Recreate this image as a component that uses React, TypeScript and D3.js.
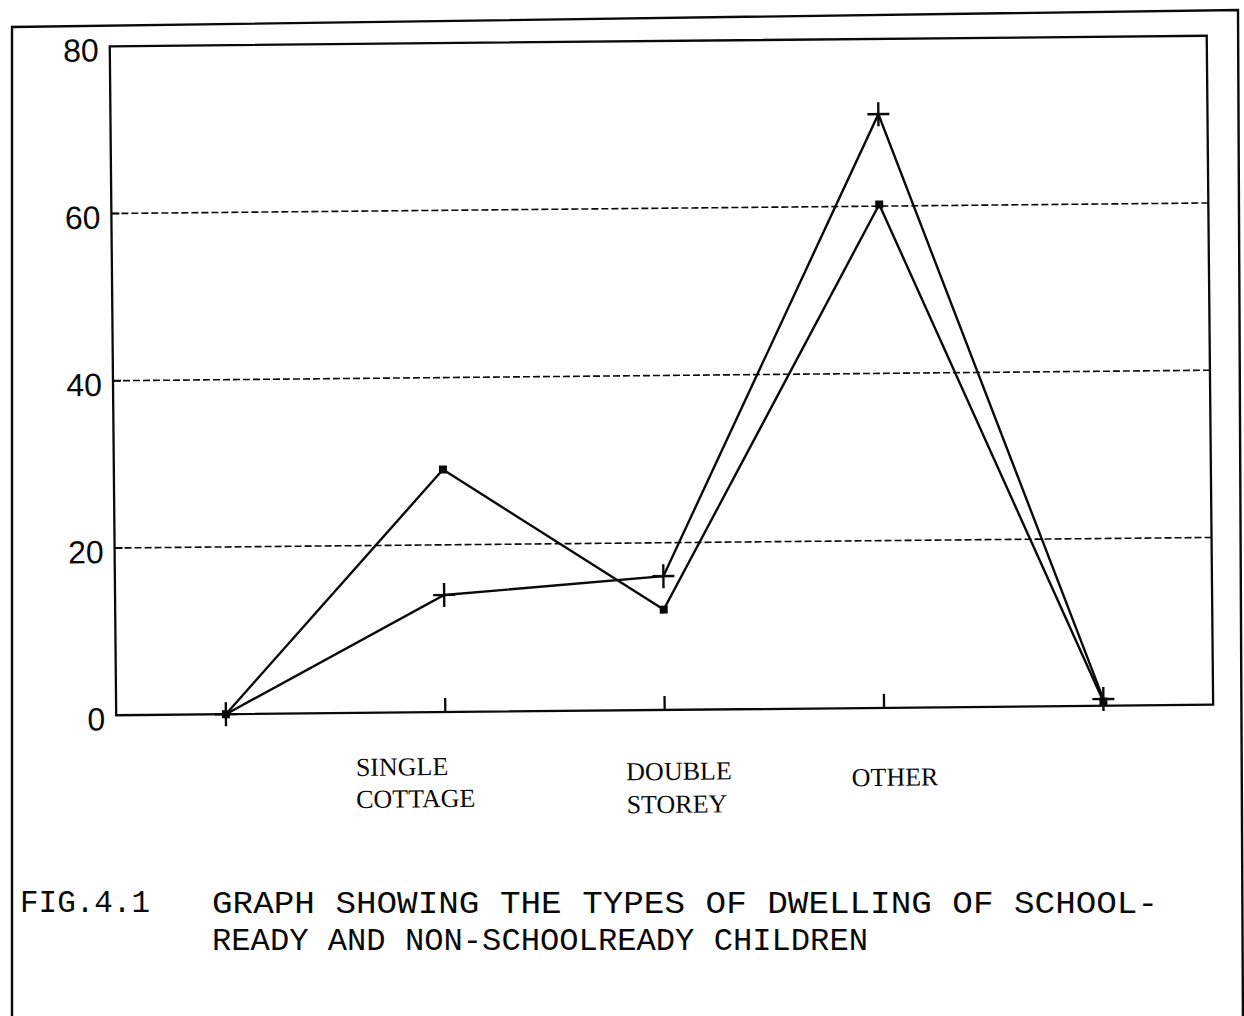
import React from "react";
import * as d3 from "d3";

// ---- data ----
const categories = ["", "SINGLE\nCOTTAGE", "DOUBLE\nSTOREY", "OTHER", ""];
const seriesSquare = [0, 29, 12, 60.2, 0.5];
const seriesPlus = [0, 14, 16, 71, 0.8];
const yTicks = [0, 20, 40, 60, 80];
const gridValues = [20, 40, 60];
const captionLine1Label = "FIG.4.1";
const captionLine1 = "GRAPH SHOWING THE TYPES OF DWELLING OF SCHOOL-";
const captionLine2 = "READY AND NON-SCHOOLREADY CHILDREN";

// ---- layout ----
const W = 1244;
const H = 1016;
const plot = { left: 113, right: 1210, top: 41, bottom: 710 };
// per-label placement (hand-typed labels are not centred)
const labelLayout = [
  null,
  { dx: -90, dy: [63, 95] },
  { dx: -39, dy: [70, 103] },
  { dx: -33, dy: [78, 0] },
  null,
];

export default function App() {
  const x = d3
    .scaleLinear()
    .domain([0, categories.length])
    .range([plot.left, plot.right]);
  const y = d3.scaleLinear().domain([0, 80]).range([plot.bottom, plot.top]);
  const cx = (i: number) => x(i + 0.5);

  const line = d3
    .line<number>()
    .x((_, i) => cx(i))
    .y((d) => y(d));

  const stroke = "#0a0a0a";

  return (
    <svg
      width={W}
      height={H}
      style={{ position: "absolute", left: 0, top: 0, background: "#fff" }}
    >
      <rect x={0} y={0} width={W} height={H} fill="#fff" />
      {/* outer frame */}
      <path
        d="M12,1030 L12,27 L1238,10 L1243,1030"
        fill="none"
        stroke={stroke}
        strokeWidth={2.4}
      />
      <g transform="rotate(-0.55, 660, 380)">
        {/* gridlines */}
        {gridValues.map((v) => (
          <g key={v}>
            <line
              x1={plot.left}
              x2={plot.right}
              y1={y(v)}
              y2={y(v)}
              stroke={stroke}
              strokeWidth={1.6}
              strokeDasharray="7 3"
            />
            <line
              x1={plot.left}
              x2={plot.left + 8}
              y1={y(v)}
              y2={y(v)}
              stroke={stroke}
              strokeWidth={2}
            />
          </g>
        ))}
        {/* plot frame */}
        <rect
          x={plot.left}
          y={plot.top}
          width={plot.right - plot.left}
          height={plot.bottom - plot.top}
          fill="none"
          stroke={stroke}
          strokeWidth={2.3}
        />
        {/* category ticks */}
        {categories.map((c, i) =>
          c ? (
            <line
              key={"t" + i}
              x1={cx(i)}
              x2={cx(i)}
              y1={plot.bottom}
              y2={plot.bottom - 14}
              stroke={stroke}
              strokeWidth={2.3}
            />
          ) : null
        )}
        {/* y tick labels */}
        {yTicks.map((v) => (
          <text
            key={"y" + v}
            x={102}
            y={y(v) + 15}
            textAnchor="end"
            fontFamily="'Liberation Sans', Arial, sans-serif"
            fontSize={32}
            fill={stroke}
          >
            {v}
          </text>
        ))}
        {/* category labels */}
        {categories.map((c, i) => {
          const lay = labelLayout[i];
          if (!c || !lay) return null;
          return c.split("\n").map((part, k) => (
            <text
              key={"c" + i + k}
              x={cx(i) + lay.dx}
              y={plot.bottom + lay.dy[k]}
              fontFamily="'Liberation Serif', 'Times New Roman', serif"
              fontSize={26}
              fill={stroke}
            >
              {part}
            </text>
          ));
        })}
        {/* series lines */}
        <path
          d={line(seriesSquare) || ""}
          fill="none"
          stroke={stroke}
          strokeWidth={2.4}
        />
        <path
          d={line(seriesPlus) || ""}
          fill="none"
          stroke={stroke}
          strokeWidth={2.4}
        />
        {/* square markers */}
        {seriesSquare.map((v, i) => (
          <rect
            key={"s" + i}
            x={cx(i) - 4}
            y={y(v) - 4}
            width={8}
            height={8}
            fill={stroke}
          />
        ))}
        {/* plus markers */}
        {seriesPlus.map((v, i) => (
          <g key={"p" + i} stroke={stroke} strokeWidth={2.4}>
            <line x1={cx(i) - 11} x2={cx(i) + 11} y1={y(v)} y2={y(v)} />
            <line x1={cx(i)} x2={cx(i)} y1={y(v) - 12} y2={y(v) + 12} />
          </g>
        ))}
      </g>
      {/* caption */}
      <text
        x={20}
        y={912}
        fontFamily="'Liberation Mono', 'Courier New', monospace"
        fontSize={32}
        textLength={130}
        lengthAdjust="spacingAndGlyphs"
        fill={stroke}
      >
        {captionLine1Label}
      </text>
      <text
        x={212}
        y={913}
        fontFamily="'Liberation Mono', 'Courier New', monospace"
        fontSize={32}
        textLength={946}
        lengthAdjust="spacingAndGlyphs"
        fill={stroke}
      >
        {captionLine1}
      </text>
      <text
        x={212}
        y={950}
        fontFamily="'Liberation Mono', 'Courier New', monospace"
        fontSize={32}
        textLength={656}
        lengthAdjust="spacingAndGlyphs"
        fill={stroke}
      >
        {captionLine2}
      </text>
    </svg>
  );
}
